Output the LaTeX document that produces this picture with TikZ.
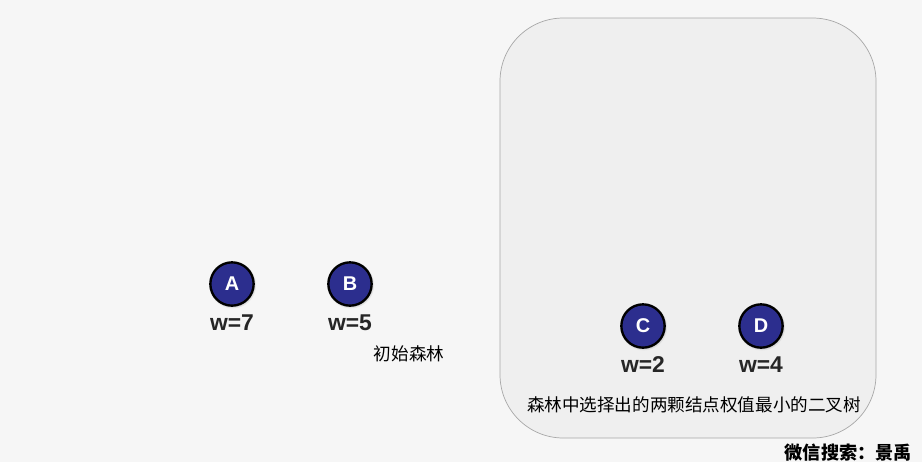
\documentclass[tikz,border=0pt]{standalone}
\usepackage{fontspec}
\setmainfont{Liberation Sans}
\newfontfamily\cjk{Noto Sans CJK SC}
\usetikzlibrary{shadows}
\definecolor{ForestBg}{HTML}{F6F6F6}
\definecolor{ForestPanel}{HTML}{EFEFEF}
\definecolor{ForestEdge}{HTML}{A8A8A8}
\definecolor{ForestNode}{HTML}{2C2E8E}

\begin{document}
\begin{tikzpicture}[x=0.03cm,y=-0.03cm,
  treenode/.style={circle,draw=black,line width=2pt,fill=ForestNode,
    minimum size=1.3cm,inner sep=0pt,text=white,font=\bfseries\fontsize{17}{17}\selectfont,
    circular drop shadow={shadow xshift=0.4pt,shadow yshift=-0.6pt,opacity=0.35}},
  weight/.style={font=\bfseries\fontsize{19.5}{19.5}\selectfont,inner sep=0pt,text=black!85}]
  \useasboundingbox (0,0) rectangle (922,462);
  \fill[ForestBg] (0,0) rectangle (922,462);
  % panel holding the two chosen trees
  \draw[ForestEdge,fill=ForestPanel,line width=0.6pt,rounded corners=1.9cm]
    (500,18) rectangle (876,438);
  % initial forest
  \node[treenode] (A) at (232,284) {A};
  \node[treenode] (B) at (350,284) {B};
  \node[weight] (wA) at (232,323) {w=7};
  \node[weight] (wB) at (350,323) {w=5};
  \node[font=\cjk\fontsize{15}{15}\selectfont] (init) at (409,354) {初始森林};
  % two smallest weights
  \node[treenode] (C) at (643,326) {C};
  \node[treenode] (D) at (761,326) {D};
  \node[weight] (wC) at (643,365) {w=2};
  \node[weight] (wD) at (761,365) {w=4};
  \node[font=\cjk\fontsize{15}{15}\selectfont] (pick) at (694,405)
    {森林中选择出的两颗结点权值最小的二叉树};
  \node[font=\cjk\bfseries\fontsize{15.5}{15.5}\selectfont,anchor=east] (mark) at (916,453)
    {微信搜索：景禹};
\end{tikzpicture}
\end{document}
